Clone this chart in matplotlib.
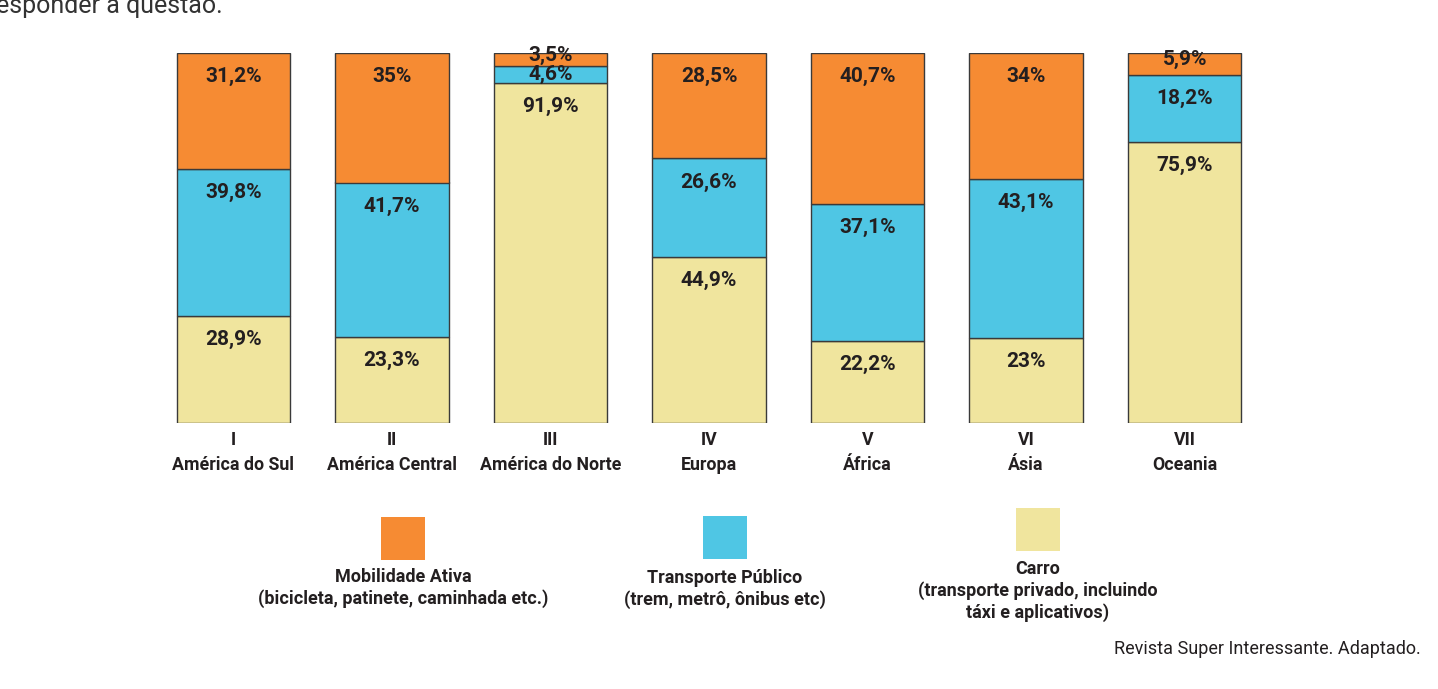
import matplotlib
matplotlib.use('Agg')
import matplotlib.pyplot as plt
from matplotlib.patches import Rectangle
import numpy as np

plt.rcParams['font.family'] = ['Roboto', 'DejaVu Sans']

numerals = ['I', 'II', 'III', 'IV', 'V', 'VI', 'VII']
regions = ['América do Sul', 'América Central', 'América do Norte', 'Europa',
           'África', 'Ásia', 'Oceania']
carro = [28.9, 23.3, 91.9, 44.9, 22.2, 23, 75.9]
publico = [39.8, 41.7, 4.6, 26.6, 37.1, 43.1, 18.2]
ativa = [31.2, 35, 3.5, 28.5, 40.7, 34, 5.9]
labels_carro = ['28,9%', '23,3%', '91,9%', '44,9%', '22,2%', '23%', '75,9%']
labels_publico = ['39,8%', '41,7%', '4,6%', '26,6%', '37,1%', '43,1%', '18,2%']
labels_ativa = ['31,2%', '35%', '3,5%', '28,5%', '40,7%', '34%', '5,9%']

legend_names = ['Mobilidade Ativa', 'Transporte Público', 'Carro']
legend_notes = ['(bicicleta, patinete, caminhada etc.)',
                '(trem, metrô, ônibus etc)',
                '(transporte privado, incluindo\ntáxi e aplicativos)']

c_ativa = '#F68B33'
c_pub = '#4FC6E4'
c_carro = '#F0E59E'
edge = '#3a3a3a'
txt = '#231f20'

W, H = 1438, 689
def fx(px):
  return px / W
def fy(py):
  return 1 - py / H

fig = plt.figure(figsize=(W/100, H/100), dpi=100)
ax = fig.add_axes([fx(154), fy(423), 1110/W, 370/H])

x = np.arange(len(regions))
carro_a = np.array(carro, float)
pub_a = np.array(publico, float)
ativa_a = np.array(ativa, float)
tot = carro_a + pub_a + ativa_a
# scale every bar to full height
carro_h = carro_a / tot * 100
pub_h = pub_a / tot * 100
ativa_h = ativa_a / tot * 100

bw = 0.715
ax.bar(x, carro_h, bw, color=c_carro, edgecolor=edge, linewidth=1)
ax.bar(x, pub_h, bw, bottom=carro_h, color=c_pub, edgecolor=edge, linewidth=1)
ax.bar(x, ativa_h, bw, bottom=carro_h + pub_h, color=c_ativa, edgecolor=edge, linewidth=1)

def put_labels(bottoms, heights, texts, small_dy=0):
  for i in range(len(texts)):
    top = bottoms[i] + heights[i]
    if heights[i] < 8:
      ax.annotate(texts[i], xy=(x[i], bottoms[i] + heights[i]/2), xytext=(0, small_dy),
                  textcoords='offset points', ha='center', va='center',
                  fontsize=15, fontweight='bold', color=txt)
    else:
      ax.annotate(texts[i], xy=(x[i], top), xytext=(0, -17), textcoords='offset points',
                  ha='center', va='center', fontsize=15, fontweight='bold', color=txt)

put_labels(np.zeros(len(x)), carro_h, labels_carro)
put_labels(carro_h, pub_h, labels_publico)
put_labels(carro_h + pub_h, ativa_h, labels_ativa, small_dy=3)

ax.set_xlim(-0.5, len(x) - 0.5)
ax.set_ylim(0, 100)
ax.set_xticks(x)
ax.set_xticklabels([n + '\n' + r for n, r in zip(numerals, regions)], fontsize=12.8,
                   fontweight='bold', linespacing=1.5, color=txt)
ax.tick_params(axis='x', length=0, pad=6)
ax.set_yticks([])
for s in ax.spines.values():
  s.set_visible(False)

# legend
sq = [(381, 517), (703, 516), (1016, 508)]
cols = [c_ativa, c_pub, c_carro]
name_y = [577, 578, 569]
for (px, py), c, nm, nt, ny in zip(sq, cols, legend_names, legend_notes, name_y):
  fig.patches.append(Rectangle((fx(px), fy(py + 43)), 44/W, 43/H, transform=fig.transFigure,
                               facecolor=c, edgecolor='none'))
  cx = fx(px + 22)
  fig.text(cx, fy(ny), nm, ha='center', va='center', fontsize=13, fontweight='bold', color=txt)
  fig.text(cx, fy(ny + 12), nt, ha='center', va='top', fontsize=13, fontweight='bold',
           color=txt, linespacing=1.25)

fig.text(fx(1421), fy(649), 'Revista Super Interessante. Adaptado.', ha='right', va='center',
         fontsize=13, color=txt)
fig.text(fx(-4), fy(6), 'esponder à questão.', ha='left', va='center', fontsize=18,
         color='#333333')

plt.savefig('out.png', dpi=100)
